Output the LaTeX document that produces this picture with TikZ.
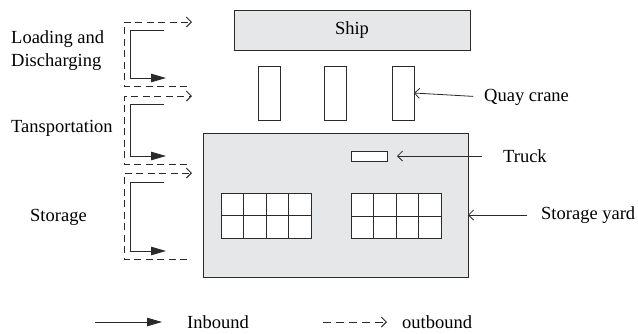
\documentclass[tikz,border=0pt]{standalone}
\usepackage{fontspec}
\setmainfont{Liberation Serif}
\usetikzlibrary{arrows.meta}
\definecolor{yardgray}{HTML}{E6E7E8}
\definecolor{linec}{HTML}{2A2A2A}
\begin{document}
\begin{tikzpicture}[x=1pt,y=-1pt,
  every node/.style={font=\fontsize{18.5}{23}\selectfont},
  box/.style={draw=linec,line width=0.9pt,inner sep=0pt,outer sep=0pt,minimum width=#1},
  cell/.style={draw=linec,line width=0.9pt,fill=white,inner sep=0pt,outer sep=0pt,minimum width=22.5pt,minimum height=22.5pt},
  lbl/.style={inner sep=0pt,anchor=west},
  ptr/.style={draw=linec,line width=0.8pt,-{Straight Barb[length=5pt,width=10pt]}},
  inb/.style={draw=linec,line width=0.9pt,-{Triangle[length=15pt,width=8.5pt]}},
  outb/.style={draw=linec,line width=0.9pt,dash pattern=on 7pt off 4.5pt,-{Straight Barb[length=5pt,width=10pt]}}
]
\useasboundingbox (0,0) rectangle (638,333);

% ship, cranes, yard, truck
\node[box=236pt,minimum height=40pt,fill=yardgray] (ship) at (352,30) {Ship};
\node[box=22pt,minimum height=54pt] (crane1) at (269,93) {};
\node[box=22pt,minimum height=54pt] (crane2) at (335.5,93) {};
\node[box=22pt,minimum height=54pt] (crane3) at (403,93) {};
\node[box=265pt,minimum height=144pt,fill=yardgray] (yard) at (335.5,205) {};
\node[box=36pt,minimum height=10pt,fill=white] (truck) at (369,156) {};

% storage blocks
\foreach \c in {0,1,2,3}{
  \foreach \r in {0,1}{
    \node[cell] (L\c\r) at (232.25+22.5*\c,204.25+22.5*\r) {};
    \node[cell] (R\c\r) at (362.25+22.5*\c,204.75+22.5*\r) {};
  }
}

% right labels
\node[lbl] (qclbl) at (484,97) {Quay crane};
\node[lbl] (trlbl) at (503,156) {Truck};
\node[lbl] (sylbl) at (541,215) {Storage yard};
\draw[ptr,shorten <=11pt] (qclbl.west) -- (crane3.east);
\draw[ptr,shorten <=21pt,shorten >=10pt] (trlbl.west) -- (truck.east);
\draw[ptr,shorten <=14pt] (sylbl.west) -- (yard.east |- sylbl.west);

% left labels
\node[lbl,align=left] (ld) at (11,51) {Loading and\\Discharging};
\node[lbl] (tp) at (11,128) {Tansportation};
\node[lbl] (st) at (30,217) {Storage};

% left flow arrows
\coordinate (d1a) at (187,86);  \coordinate (d1b) at (124,86);  \coordinate (d1c) at (124,22);  \coordinate (d1d) at (192,22);
\coordinate (s1a) at (164,30);  \coordinate (s1b) at (130,30);  \coordinate (s1c) at (130,78);  \coordinate (s1d) at (166,78);
\coordinate (d2a) at (187,164); \coordinate (d2b) at (124,164); \coordinate (d2c) at (124,96);  \coordinate (d2d) at (192,96);
\coordinate (s2a) at (164,104); \coordinate (s2b) at (130,104); \coordinate (s2c) at (130,156); \coordinate (s2d) at (166,156);
\coordinate (d3a) at (187,259); \coordinate (d3b) at (124,259); \coordinate (d3c) at (124,173); \coordinate (d3d) at (192,173);
\coordinate (s3a) at (164,182); \coordinate (s3b) at (130,182); \coordinate (s3c) at (130,251); \coordinate (s3d) at (166,251);
\foreach \i in {1,2,3}{
  \draw[outb] (d\i a) -- (d\i b) -- (d\i c) -- (d\i d);
  \draw[inb] (s\i a) -- (s\i b) -- (s\i c) -- (s\i d);
}

% legend
\coordinate (li1) at (95,322);  \coordinate (li2) at (162,322);
\coordinate (lo1) at (323,322); \coordinate (lo2) at (387,322);
\draw[inb] (li1) -- (li2);
\draw[outb,dash pattern=on 8pt off 5pt] (lo1) -- (lo2);
\node[lbl] (inbl) at (187,322) {Inbound};
\node[lbl] (outbl) at (402,322) {outbound};
\end{tikzpicture}
\end{document}
